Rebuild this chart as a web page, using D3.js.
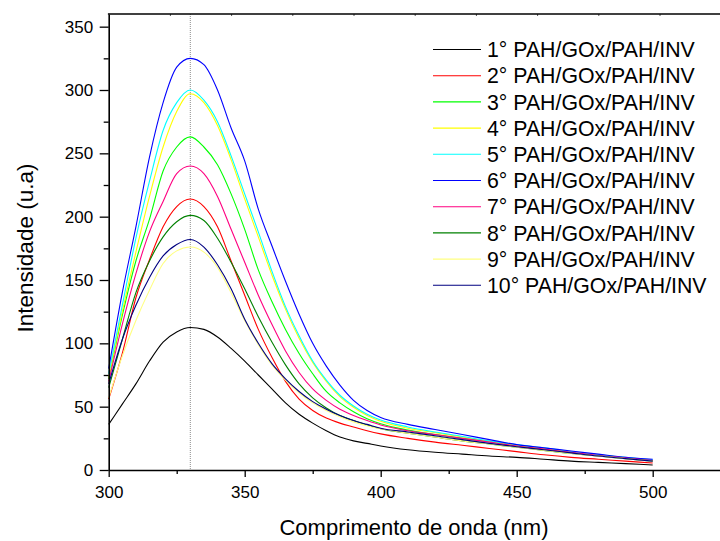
<!DOCTYPE html>
<html><head><meta charset="utf-8">
<script src="https://cdn.jsdelivr.net/npm/d3@7"></script>
<style>
body{margin:0;background:#fff}
svg{display:block}
text{font-family:"Liberation Sans",Arial,Helvetica,sans-serif;fill:#000}
</style>
</head><body>
<svg id="chart" width="720" height="541"></svg>
<script>
// ---- data ----
const wavelengths = [300,305,310,315,320,325,330,335,340,345,350,355,360,365,370,375,380,385,390,395,400,410,420,430,440,450,460,470,480,490,500];
const layer1  = [36,52,68,86,101,109,112.5,111,105,96,86,75,64,53,44,37,31,26,23,21,19, 16,14,12.5,11,10,8.5,7,6,5,4];
const layer2  = [56,92,136,166,192,208,214,208,192,165,138,111,89,70,56,47,41,37,34,31,28.5, 25,22,19.5,17,14.5,12,10,8.5,7,5.5];
const layer3  = [72,122,165,198,236,255,263,255,241,218,190,158,133,111,92,76,62,53,46,40.5,36.5, 31.5,28,25,22.5,19.5,17,14,12,9.5,7.5];
const layer4  = [73,125,172,216,255,283,297,290,272,245,214,184,154,127,104,85,70,58,49.5,43,38.5, 33,29.5,26,22.5,19.5,17,14,12,9.5,7.5];
const layer5  = [76,130,183,228,268,290,300,292,275,248,218,188,157,129,106,86,71,59,50.5,44,39.5, 34,30,26.5,23,20,17.5,14.5,12,10,8];
const layer6  = [80,140,192,247,290,318,325,320,300,270,244,206,177,149,123,100,82,67,55,47,41.5, 36,32,28,24,20,17.5,15,12.5,10,8.5];
const layer7  = [70,115,155,188,212,234,240,234,216,190,164,138,115,94,77,64,55,48,43,39,35.5, 31,28,25,22,19,16.5,14,11.5,9.5,7.5];
const layer8  = [65,103,140,165,184,196,201,197,183,164,143,121,101,83,68,57,49,43,39,35.5,32.5, 29,26,23,20.5,18,15.5,13,11,9,7];
const layer9  = [57,90,118,142,163,173,176,172,160,140,118,99,83,71,61,53,47,42,38,35,32.5, 29,26,23,20.5,18,15.5,13,11,9,7];
const layer10 = [68,103,130,152,169,178,182,176,162,143,119,100,84,72,62,54,48,43,39,36,33, 30,27,24,21,18.4,16,13.5,11,9,7];
const seriesNames = ["1° PAH/GOx/PAH/INV","2° PAH/GOx/PAH/INV","3° PAH/GOx/PAH/INV","4° PAH/GOx/PAH/INV","5° PAH/GOx/PAH/INV","6° PAH/GOx/PAH/INV","7° PAH/GOx/PAH/INV","8° PAH/GOx/PAH/INV","9° PAH/GOx/PAH/INV","10° PAH/GOx/PAH/INV"];
const seriesValues = [layer1,layer2,layer3,layer4,layer5,layer6,layer7,layer8,layer9,layer10];
const xTicks = [300,350,400,450,500];
const xMinorTicks = [325,375,425,475,525];
const yTicks = [0,50,100,150,200,250,300,350];
const yMinorTicks = [25,75,125,175,225,275,325];
const topTicks = [322.5,345,367.5,390,412.5,435,457.5,480,502.5];
const markerWavelength = 330;
const xTitle = "Comprimento de onda (nm)";
const yTitle = "Intensidade (u.a)";

// ---- styles ----
const colors = ["#000000","#ff0000","#00ff00","#ffff00","#00ffff","#0000ff","#ff0080","#008000","#ffff80","#000080"];

// ---- layout ----
const plotLeft = 108.7, plotBottom = 470, plotTop = 14, plotRight = 720.7;
const svg = d3.select("#chart");
const x = d3.scaleLinear().domain([300,525]).range([plotLeft,plotRight]);
const y = d3.scaleLinear().domain([0,360]).range([plotBottom,plotTop]);

// dotted marker line
svg.append("line")
  .attr("x1",x(markerWavelength)).attr("x2",x(markerWavelength))
  .attr("y1",y(360)).attr("y2",y(0))
  .attr("stroke","#8c8c8c").attr("stroke-width",1).attr("stroke-dasharray","1,1");

// series
const line = d3.line().x((d,i)=>x(wavelengths[i])).y(d=>y(d)).curve(d3.curveMonotoneX);
seriesValues.forEach((vals,k)=>{
  svg.append("path").datum(vals)
    .attr("d",line).attr("fill","none")
    .attr("stroke",colors[k]).attr("stroke-width",1.1);
});

// axes
const fontTick = "17px";
svg.append("g").attr("transform",`translate(0,${plotBottom})`)
  .call(d3.axisBottom(x).tickValues(xTicks).tickSize(7).tickPadding(9).tickSizeOuter(0));
svg.append("g").attr("transform",`translate(0,${plotBottom})`)
  .call(d3.axisBottom(x).tickValues(xMinorTicks).tickSize(4).tickFormat("").tickSizeOuter(0))
  .select(".domain").remove();
svg.append("g").attr("transform",`translate(${plotLeft},0)`)
  .call(d3.axisLeft(y).tickValues(yTicks).tickSize(9).tickPadding(6.5).tickSizeOuter(0));
svg.append("g").attr("transform",`translate(${plotLeft},0)`)
  .call(d3.axisLeft(y).tickValues(yMinorTicks).tickSize(5).tickFormat("").tickSizeOuter(0))
  .select(".domain").remove();
// top axis
const gTop = svg.append("g").attr("transform",`translate(0,${plotTop})`)
  .call(d3.axisTop(x).tickValues(topTicks).tickSize(-2).tickFormat("").tickSizeOuter(0));
gTop.select(".domain").remove();

svg.selectAll(".domain").attr("stroke","#000").attr("stroke-width",1.6);
svg.selectAll(".tick line").attr("stroke-width",1.3);
gTop.selectAll(".tick line").attr("stroke","#555").attr("stroke-width",1);
svg.selectAll(".tick text").attr("font-size",fontTick)
  .attr("font-family","'Liberation Sans',Arial,sans-serif").attr("fill","#000");
// top border line
svg.append("line").attr("x1",plotLeft-0.8).attr("x2",720).attr("y1",plotTop).attr("y2",plotTop)
  .attr("stroke","#000").attr("stroke-width",1.6);

// axis titles
svg.append("text").attr("x",414).attr("y",535).attr("text-anchor","middle")
  .attr("font-size","22px").text(xTitle);
svg.append("text").attr("transform","translate(33,248) rotate(-90)").attr("text-anchor","middle")
  .attr("font-size","22.5px").text(yTitle);

// legend
const lg = svg.append("g");
seriesNames.forEach((name,k)=>{
  const cy = 49.5 + k*26.2;
  lg.append("line").attr("x1",433).attr("x2",481).attr("y1",cy).attr("y2",cy)
    .attr("stroke",colors[k]).attr("stroke-width",1.1);
  lg.append("text").attr("x",487).attr("y",cy).attr("dy","0.36em")
    .attr("font-size","21.3px").text(name);
});
</script>
</body></html>
